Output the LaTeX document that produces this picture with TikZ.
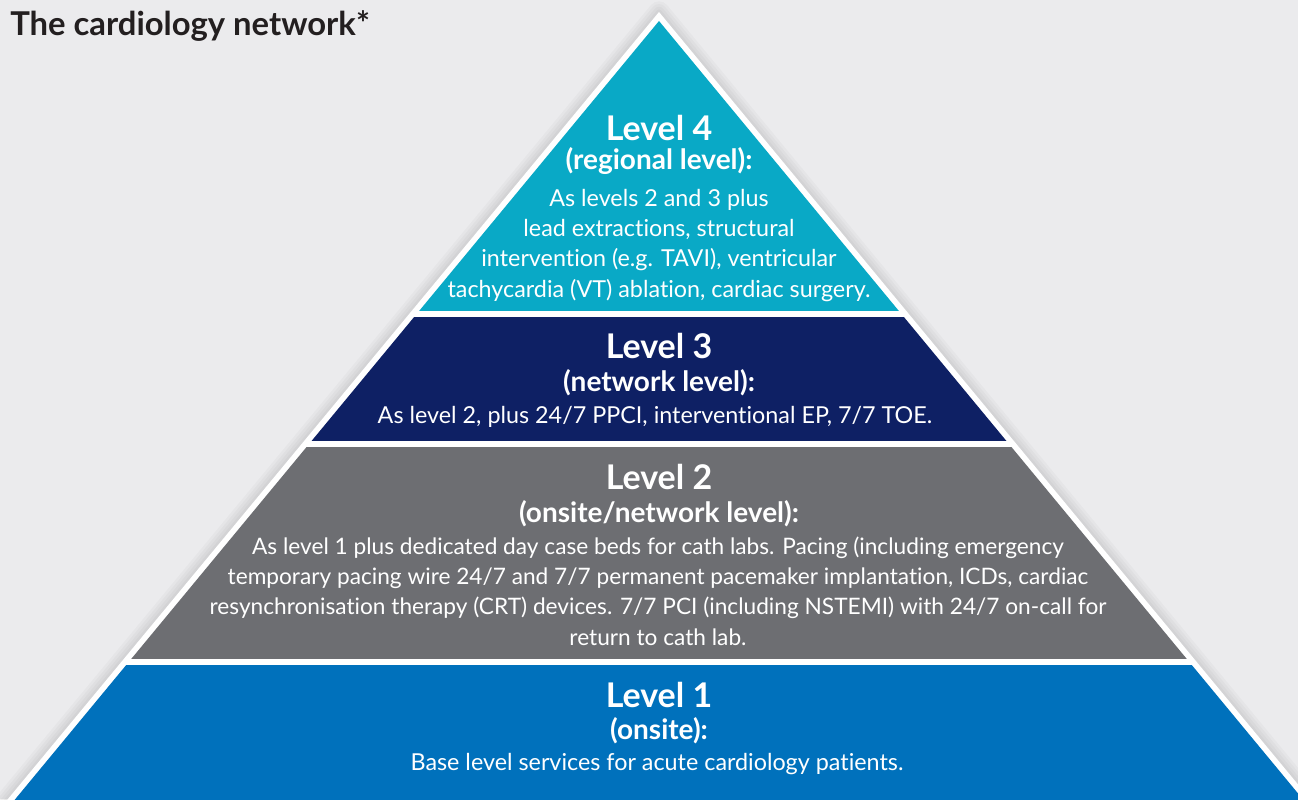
\documentclass[tikz,border=0pt]{standalone}
\usepackage{fontspec}
\setmainfont{Lato}[RawFeature={-liga;-clig;-calt;-dlig}]
\definecolor{bgcol}{HTML}{EBEBED}
\definecolor{lvonecol}{HTML}{0071BC}
\definecolor{lvtwocol}{HTML}{6D6E72}
\definecolor{lvthreecol}{HTML}{0E2064}
\definecolor{lvfourcol}{HTML}{09A9C6}
\definecolor{titlecol}{HTML}{231F20}
\begin{document}
\begin{tikzpicture}[x=0.75pt, y=-0.75pt,
    head/.style={text=white, font=\bfseries\fontsize{25.5}{30}\selectfont, anchor=base, inner sep=0pt},
    subhead/.style={text=white, font=\bfseries\fontsize{21}{25}\selectfont, anchor=base, inner sep=0pt},
    body/.style={text=white, font=\fontsize{17.5}{22.7}\selectfont, align=center, anchor=base, inner sep=0pt}]
      \fill[bgcol] (0,0) rectangle (1298,799);
      \clip (0,0) rectangle (1298,799);

      % soft shadow round the pyramid
      \foreach \w in {4,8,12,16}
        \draw[black, opacity=0.025, line width=\w pt, line join=round] (659,12) -- (-9.4,820) -- (1327.4,820) -- cycle;
      \fill[white] (659,12) -- (-9.4,820) -- (1327.4,820) -- cycle;

      % the four levels
      \begin{scope}
        \clip (659,21) -- (-2,820) -- (1320,820) -- cycle;
        \fill[lvfourcol] (0,0) rectangle (1298,311);
        \fill[lvthreecol] (0,317) rectangle (1298,441);
        \fill[lvtwocol] (0,447) rectangle (1298,659);
        \fill[lvonecol] (0,665) rectangle (1298,820);
      \end{scope}

      \node[anchor=base west, inner sep=0pt, text=titlecol, font=\bfseries\fontsize{24.6}{30}\selectfont] (title) at (10,36) {The cardiology network*};

      % multi-line text: base sits on the last line
      \node[head] (lvfourhead) at (659,140) {Level 4};
      \node[subhead] (lvfoursub) at (659,169) {(regional level):};
      \node[body] (lvfourtxt) at (659,297) {As levels 2 and 3 plus\\ lead extractions, structural\\ intervention (e.g. TAVI), ventricular\\ tachycardia (VT) ablation, cardiac surgery.};

      \node[head] (lvthreehead) at (659,358) {Level 3};
      \node[subhead] (lvthreesub) at (659,391) {(network level):};
      \node[body] (lvthreetxt) at (655,423) {As level 2, plus 24/7 PPCI, interventional EP, 7/7 TOE.};

      \node[head] (lvtwohead) at (659,489) {Level 2};
      \node[subhead] (lvtwosub) at (659,522) {(onsite/network level):};
      \node[body, font=\fontsize{17}{22.7}\selectfont] (lvtwotxt) at (658,645) {As level 1 plus dedicated day case beds for cath labs. Pacing (including emergency\\ temporary pacing wire 24/7 and 7/7 permanent pacemaker implantation, ICDs, cardiac\\ resynchronisation therapy (CRT) devices. 7/7 PCI (including NSTEMI) with 24/7 on-call for\\ return to cath lab.};

      \node[head] (lvonehead) at (659,707) {Level 1};
      \node[subhead] (lvonesub) at (659,739) {(onsite):};
      \node[body] (lvonetxt) at (657,770) {Base level services for acute cardiology patients.};
\end{tikzpicture}
\end{document}
